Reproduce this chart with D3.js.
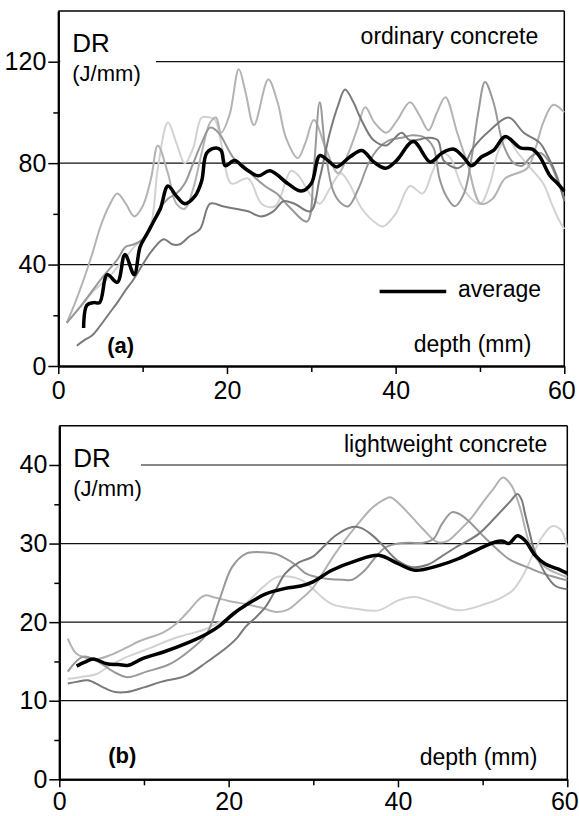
<!DOCTYPE html>
<html>
<head>
<meta charset="utf-8">
<script src="https://cdn.jsdelivr.net/npm/d3@7"></script>
<style>
  body { margin: 0; background: #fff; }
  svg { display: block; font-family: "Liberation Sans", Arial, sans-serif; }
</style>
</head>
<body>
<svg id="chart" width="579" height="816"></svg>
<script>
// Dissipated energy rate DR (J/mm) vs drilling depth (mm), panels (a) and (b)

// ---- data: [depth, DR] ----
// (a) ordinary concrete, four single holes + average
const ordA = [[1,17],[2,21],[3,25],[4,29],[5,32],[6,35],[7,39],[8,43],[9,47],[10,50],[11,56],[11.8,78],[13,96],[14,88],[15,80],[16,86],[17,98],[18,98],[18.6,97],[19.5,85],[20.5,72],[22.5,74],[24.1,64],[25.7,63],[27.6,77],[28.5,75],[30,67],[31,64],[32.2,70],[33.5,76],[34.5,72],[36,62],[37.8,56],[38.5,55],[40,60],[41.7,71],[43.2,68],[44.3,76],[45.5,84],[46.5,82],[48,70],[50,64],[51.2,72],[52.2,85],[53.2,90],[54.5,84],[56,78],[57.5,72],[58.5,64],[59.3,58],[60,54]];
const ordB = [[1,17],[2,25],[3,34],[4,44],[5,55],[6,63],[7,68],[8,64],[9,59],[10,63],[11,74],[11.8,87],[13,76],[14,64],[15,62],[16,70],[17,84],[18,96],[18.7,98],[19.3,92],[20.3,99],[21.4,117],[22.2,108],[23.2,95],[24.9,113],[26,104],[27,90],[28.4,82],[29.3,88],[30.3,97],[31.8,85],[33.2,76],[34.4,84],[35.4,93],[36.4,102],[37.5,96],[38.9,92],[40.2,97],[41.7,104],[42.8,99],[43.9,93],[44.9,100],[45.9,106],[47.3,92],[48.5,80],[50.1,64],[51.5,66],[53,74],[55.6,78],[56.6,86],[57.5,96],[58.7,103],[60,100]];
const ordC = [[1,17],[3,25],[5,34],[7,42],[8,47],[9,48],[10,50],[11,55],[12,62],[13,66],[14,68],[15,72],[16,80],[17,88],[18,94],[19,92],[20.8,82],[22,79],[23.1,75],[24.5,71],[25.9,68],[27.6,62],[29.5,57],[30.3,78],[31,104],[31.7,84],[32.6,69],[33.6,64],[34.4,63],[35.6,70],[36.8,80],[38,86],[39.2,89],[40.7,90],[42,91],[43.5,90],[44.5,86],[45.2,74],[46,67],[47,63],[48.1,68],[49,82],[49.8,100],[50.6,112],[51.6,104],[52.8,87],[54,80],[55,79],[56.2,83],[57.2,84],[58.3,80],[59.2,73],[60,66]];
const ordD = [[2.2,8],[3,10],[4,12],[5,16],[6.1,21],[7,25],[8,30],[8.9,34],[10,40],[11,45],[12.5,50],[13.5,48],[14.4,48],[15.5,51],[16.8,54],[18,64],[19.5,63],[21,62],[22.5,61],[24,59],[25.5,61],[26.7,65],[28,64],[29.9,61],[31,74],[32.2,92],[33.2,103],[34,109],[35,104],[35.8,98],[37.4,89],[38.9,87],[40.7,92],[41.7,89],[43.9,90],[45,89],[45.7,81],[47.3,78],[48.2,80],[49.2,86],[51.2,93],[53.4,98],[55.2,92],[57.1,88],[58,83],[59.1,75],[60,65]];
const ordAvg = [[3,15],[3.4,24],[4.2,25],[4.9,25],[5.8,36],[7,33],[7.9,44],[9,36],[9.7,47],[10.5,52],[11.3,57],[12.1,62],[13,71],[14,67],[15,64],[16.2,67],[17,73],[17.6,84],[18.7,86],[19.3,85],[19.8,79],[20.9,81],[22.1,78],[23.7,75],[25.1,77],[27.2,72],[28.8,69],[30,72],[31,83],[32,81],[33,78.5],[34.6,82.5],[36,85],[37.4,80.5],[38.8,78],[40.1,81],[42.1,88.5],[44.1,80.5],[45.5,84],[46.9,85.5],[48,82.5],[49,79],[50.2,82.5],[51.6,85],[53,90.5],[54.8,86],[56.2,85.5],[57.1,82.5],[58.3,75],[59.2,72],[60,69]];

// (b) lightweight concrete
const lwA = [[1,12.8],[2.5,13],[4.4,13.4],[6,14.5],[7.6,15.4],[9,16],[10.7,16.7],[12.5,17.5],[14.3,18.2],[17,19],[18.6,19.8],[20.2,20.6],[22,22.3],[24,24.4],[25.6,25.7],[27.1,25.8],[28.5,25.4],[29.9,24.3],[31,23.2],[32.2,22.3],[35,21.7],[37.7,21.5],[40.1,22.8],[42,23.2],[44.4,22.4],[47.2,21.5],[50.3,22.3],[52,23],[53.5,24],[54.8,26],[55.8,28.3],[57,30.8],[58.2,32.2],[59.2,31.8],[60,29.5]];
const lwB = [[1,17.9],[2,16],[3,15.5],[4.4,15.3],[6,15.8],[8,16.8],[9.5,17.6],[12.3,18.7],[13.8,19.8],[15,21.1],[16.6,23],[17.2,23.4],[18.5,23.1],[20,22.7],[22,22.3],[24,21.8],[25.6,21.3],[27,21.6],[28.2,22.6],[29.9,24.3],[31.2,26.4],[32.5,28.6],[34,30.8],[35.5,32.8],[37,34.6],[38.2,35.5],[39.1,35.9],[40.2,35],[41.7,33.3],[43,31.8],[44.6,30.2],[45.8,30.3],[47.2,31.6],[48.7,33.3],[50.2,35.5],[51.3,37],[52.4,38.4],[53.4,37.4],[54.4,34.6],[55.4,30.4],[56.4,28],[57.5,26.9],[58.8,26.2],[60,25.7]];
const lwC = [[1,13.7],[2.8,15.6],[4.5,15],[6.4,13.7],[8,13],[10.3,13.7],[13.1,14.7],[15.4,16.4],[17.4,18.5],[18.9,22.8],[20.4,27],[22,28.7],[24,28.9],[25.5,28.7],[26.7,28.1],[28,27.2],[29.1,26.2],[30.5,25.7],[31.8,25.5],[33.5,25.4],[34.6,25.4],[36,26.5],[37.3,28.2],[38.5,29.5],[40,30],[41.5,30.1],[43,30.1],[44.2,30.6],[45.2,32.5],[46.4,34],[47.5,33.6],[48.7,32.5],[50.3,30.7],[51.9,29.1],[53,28.1],[54.3,27.4],[55.5,26.9],[56.6,26.4],[58.3,25.8],[60,25.3]];
const lwD = [[1,12.2],[2,12.4],[3.4,12.6],[5,11.8],[6.6,11.1],[8,11.1],[10,11.7],[12,12.4],[15,13.2],[17.4,14.9],[19.8,16.8],[21,18],[22,19.4],[23.2,20.6],[24.4,22],[25.6,24.2],[26.7,26.2],[28.3,27.6],[29.9,28.3],[31.3,29.7],[32.6,31],[34.6,32.1],[35.6,32],[36.8,31.2],[38,30],[40,27.8],[41.7,27],[43.5,27.3],[45.2,28.4],[46.8,29.5],[49.5,31.2],[51.9,33.8],[53.3,35.4],[54.1,36.3],[54.6,35.6],[55,33.8],[55.6,31.2],[56,29.5],[57.4,26.2],[58.6,24.6],[60,24.2]];
const lwAvg = [[2.05,14.4],[3,14.9],[4,15.3],[5.6,14.7],[7,14.6],[8.1,14.5],[9.9,15.4],[12.3,16.2],[15,17.3],[17.4,18.5],[19,19.6],[20.6,21.1],[22.1,22.2],[24.4,23.6],[26.7,24.3],[28.5,24.6],[29.9,25.1],[32.2,26.6],[35,27.8],[37.7,28.5],[40.1,27.4],[42,26.6],[44.8,27.2],[47.2,28.1],[49.5,29.3],[51.5,30.2],[52.4,30.3],[53.1,30],[54.1,31],[55,30.4],[56.2,28.5],[57.4,27.4],[58.8,26.8],[60,26.2]];

const grays = ["#d2d2d2", "#b3b3b3", "#989898", "#7a7a7a"];

const panels = [
  {
    singles: [ordA, ordB, ordC, ordD], avg: ordAvg,
    yMax: 140, major: [0, 40, 80, 120], minor: [20, 60, 100], grid: [40, 80, 120],
    x0: 58.3, x1: 564.3, yTop: 11, yBot: 366, tickPad: 7,
    title: "ordinary concrete", titleDx: 26, titleDy: 33, depthDx: 33, depthDy: 14,
    tag: "(a)", tagDy: 13, labelGap: 157, legend: true
  },
  {
    singles: [lwA, lwB, lwC, lwD], avg: lwAvg,
    yMax: 45, major: [0, 10, 20, 30, 40], minor: [5, 15, 25, 35], grid: [10, 20, 30, 40],
    x0: 59.3, x1: 567.3, yTop: 425.7, yBot: 779.3, tickPad: 5,
    title: "lightweight concrete", titleDx: 20, titleDy: 26, depthDx: 30, depthDy: 14,
    tag: "(b)", tagDy: 16, labelGap: 142, legend: false
  }
];

const svg = d3.select("#chart");

panels.forEach(p => {
  const x = d3.scaleLinear().domain([0, 60]).range([p.x0, p.x1]);
  const y = d3.scaleLinear().domain([0, p.yMax]).range([p.yBot, p.yTop]);
  const g = svg.append("g");

  // grid lines
  g.selectAll(".grid").data(p.grid).enter().append("line")
    .attr("x1", x(0)).attr("x2", x(60))
    .attr("y1", d => y(d)).attr("y2", d => y(d))
    .attr("stroke", "#111").attr("stroke-width", 1.2);

  // frame top / right
  g.append("line").attr("x1", x(0)).attr("x2", x(60)).attr("y1", y(p.yMax)).attr("y2", y(p.yMax))
    .attr("stroke", "#000").attr("stroke-width", 1.5);
  g.append("line").attr("x1", x(60)).attr("x2", x(60)).attr("y1", y(p.yMax)).attr("y2", y(0))
    .attr("stroke", "#000").attr("stroke-width", 1.5);

  const line = d3.line().x(d => x(d[0])).y(d => y(d[1])).curve(d3.curveCatmullRom.alpha(0.5));

  // single curves
  g.selectAll(".single").data(p.singles).enter().append("path")
    .attr("d", line)
    .attr("fill", "none")
    .attr("stroke", (d, i) => grays[i])
    .attr("stroke-width", 2)
    .attr("stroke-linejoin", "round");

  // average
  g.append("path").datum(p.avg)
    .attr("d", line)
    .attr("fill", "none").attr("stroke", "#000")
    .attr("stroke-width", 3.5).attr("stroke-linejoin", "round");

  // axes
  const xAxis = g.append("g").attr("transform", `translate(0,${y(0)})`)
    .call(d3.axisBottom(x).tickValues([0, 20, 40, 60]).tickSize(8).tickSizeOuter(0).tickPadding(p.tickPad));
  g.append("g").attr("transform", `translate(0,${y(0)})`)
    .call(d3.axisBottom(x).tickValues([10, 30, 50]).tickSize(6).tickFormat("").tickSizeOuter(0));
  const yAxis = g.append("g").attr("transform", `translate(${x(0)},0)`)
    .call(d3.axisLeft(y).tickValues(p.major).tickSize(10).tickSizeOuter(0).tickPadding(2));
  g.append("g").attr("transform", `translate(${x(0)},0)`)
    .call(d3.axisLeft(y).tickValues(p.minor).tickSize(5).tickFormat("").tickSizeOuter(0));
  g.selectAll(".domain").attr("stroke", "#000").attr("stroke-width", 2);
  g.selectAll(".tick line").attr("stroke", "#000").attr("stroke-width", 1.5);
  xAxis.selectAll("text").attr("font-size", 25).attr("fill", "#000")
    .attr("font-family", "Liberation Sans, Arial, sans-serif")
    .attr("dx", d => d === 60 ? -3 : 0);
  yAxis.selectAll("text").attr("font-size", 25).attr("fill", "#000")
    .attr("font-family", "Liberation Sans, Arial, sans-serif");

  // unit label with white gap through the grid line
  const top = y(p.yMax);
  g.append("rect").attr("x", x(0) + 2).attr("y", top + 20)
    .attr("width", p.labelGap - x(0) - 3).attr("height", 56).attr("fill", "#fff");
  g.append("text").attr("x", x(0) + 14).attr("y", top + 41)
    .attr("font-size", 26).text("DR");
  g.append("text").attr("x", x(0) + 14).attr("y", top + 70)
    .attr("font-size", 22).text("(J/mm)");

  g.append("text").attr("x", x(60) - p.titleDx).attr("y", top + p.titleDy)
    .attr("text-anchor", "end").attr("font-size", 23).text(p.title);
  g.append("text").attr("x", x(60) - p.depthDx).attr("y", y(0) - p.depthDy)
    .attr("text-anchor", "end").attr("font-size", 23).text("depth (mm)");
  g.append("text").attr("x", x(0) + 49).attr("y", y(0) - p.tagDy)
    .attr("font-size", 22).attr("font-weight", "bold").text(p.tag);

  if (p.legend) {
    const ly = y(29.4);
    g.append("line").attr("x1", x(38.1)).attr("x2", x(46)).attr("y1", ly).attr("y2", ly)
      .attr("stroke", "#000").attr("stroke-width", 3.5);
    g.append("text").attr("x", x(47.4)).attr("y", ly + 6)
      .attr("font-size", 23).text("average");
  }
});
</script>
</body>
</html>
